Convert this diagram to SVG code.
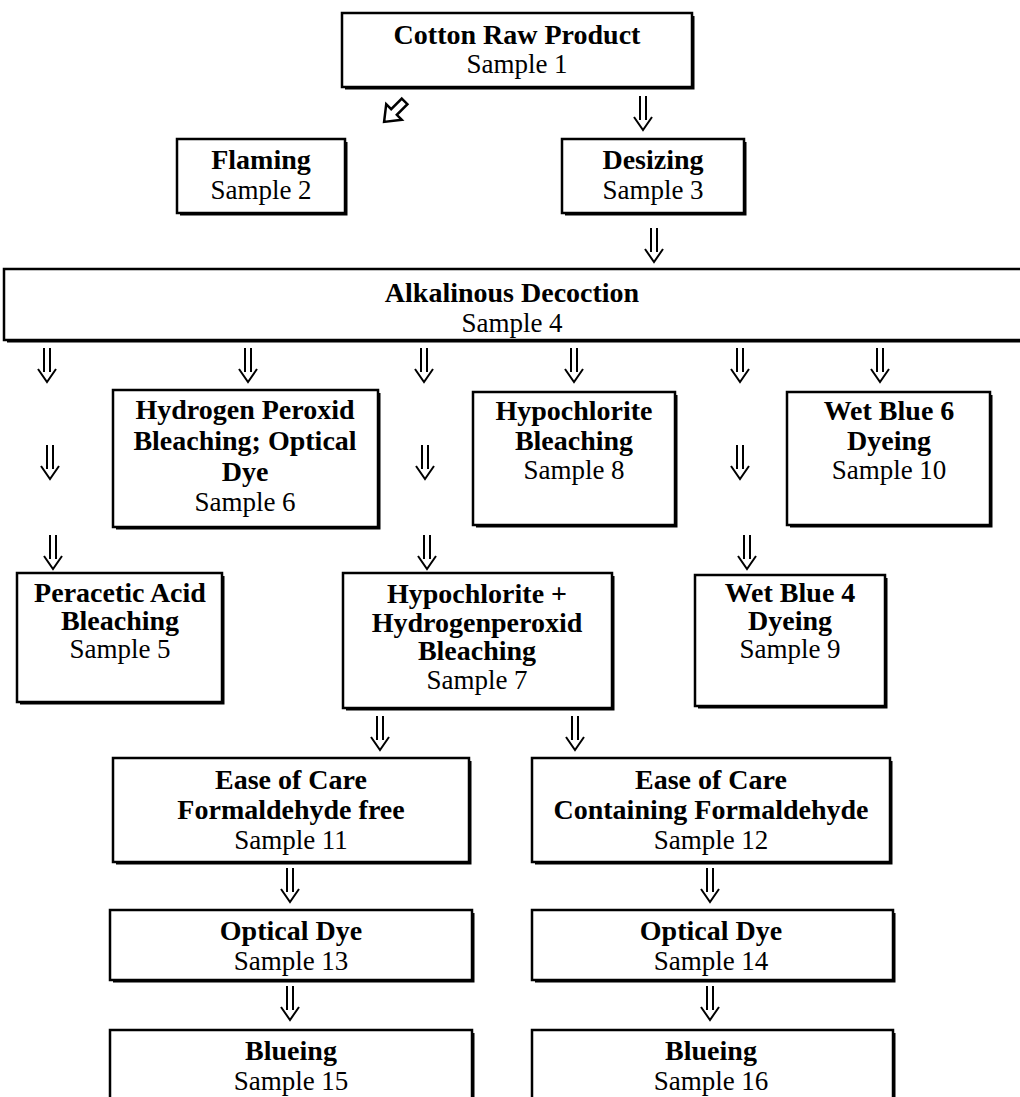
<svg xmlns="http://www.w3.org/2000/svg" xmlns:xlink="http://www.w3.org/1999/xlink" width="1020" height="1097" viewBox="0 0 1020 1097">
<style>
.box{fill:#fff;stroke:#000;stroke-width:2.5}
.sh{fill:none;stroke:#000;stroke-width:3}
.t{font-family:"Liberation Serif","Times New Roman",serif;font-size:27px;text-anchor:middle;fill:#000}
.b{font-weight:bold;font-size:28px}
.ar{fill:none;stroke:#000;stroke-width:2}
.ha{fill:#fff;stroke:#000;stroke-width:2.5;stroke-linejoin:miter}
</style>
<defs>
<path id="dn" class="ar" d="M-3 0V24M3 0V24M-9 21L0 34L9 21"/>
</defs>
<rect width="1020" height="1097" fill="#fff"/>

<g id="connectors">
<polygon class="ha" transform="translate(394,112) rotate(45)" points="-4,-15 4,-15 4,0 11,0 0,14 -11,0 -4,0"/>
<use xlink:href="#dn" x="643" y="96"/>
<use xlink:href="#dn" x="654" y="228"/>
<use xlink:href="#dn" x="47" y="348"/>
<use xlink:href="#dn" x="248" y="348"/>
<use xlink:href="#dn" x="424" y="348"/>
<use xlink:href="#dn" x="574" y="348"/>
<use xlink:href="#dn" x="740" y="348"/>
<use xlink:href="#dn" x="880" y="348"/>
<use xlink:href="#dn" x="50" y="445"/>
<use xlink:href="#dn" x="425" y="445"/>
<use xlink:href="#dn" x="740" y="445"/>
<use xlink:href="#dn" x="53" y="535"/>
<use xlink:href="#dn" x="427" y="535"/>
<use xlink:href="#dn" x="747" y="535"/>
<use xlink:href="#dn" x="380" y="716"/>
<use xlink:href="#dn" x="575" y="716"/>
<use xlink:href="#dn" x="290" y="868"/>
<use xlink:href="#dn" x="710" y="868"/>
<use xlink:href="#dn" x="290" y="986"/>
<use xlink:href="#dn" x="710" y="986"/>
</g>

<g id="n1">
<rect class="box" x="342" y="13" width="350" height="74"/>
<path class="sh" d="M693 16V88H345"/>
<text class="t b" x="517" y="44">Cotton Raw Product</text>
<text class="t" x="517" y="73">Sample 1</text>
</g>
<g id="n2">
<rect class="box" x="177" y="139" width="168" height="74"/>
<path class="sh" d="M346 142V214H180"/>
<text class="t b" x="261" y="169">Flaming</text>
<text class="t" x="261" y="199">Sample 2</text>
</g>
<g id="n3">
<rect class="box" x="562" y="139" width="182" height="74"/>
<path class="sh" d="M745 142V214H565"/>
<text class="t b" x="653" y="169">Desizing</text>
<text class="t" x="653" y="199">Sample 3</text>
</g>
<g id="n4">
<rect class="box" x="4" y="269" width="1030" height="71"/>
<path class="sh" d="M7 341H1030"/>
<text class="t b" x="512" y="302">Alkalinous Decoction</text>
<text class="t" x="512" y="332">Sample 4</text>
</g>
<g id="n6">
<rect class="box" x="113" y="390" width="265" height="137"/>
<path class="sh" d="M379 393V528H116"/>
<text class="t b" x="245" y="419">Hydrogen Peroxid</text>
<text class="t b" x="245" y="450">Bleaching; Optical</text>
<text class="t b" x="245" y="481">Dye</text>
<text class="t" x="245" y="511">Sample 6</text>
</g>
<g id="n8">
<rect class="box" x="473" y="392" width="202" height="133"/>
<path class="sh" d="M676 395V526H476"/>
<text class="t b" x="574" y="420">Hypochlorite</text>
<text class="t b" x="574" y="450">Bleaching</text>
<text class="t" x="574" y="479">Sample 8</text>
</g>
<g id="n10">
<rect class="box" x="787" y="392" width="203" height="133"/>
<path class="sh" d="M991 395V526H790"/>
<text class="t b" x="889" y="420">Wet Blue 6</text>
<text class="t b" x="889" y="450">Dyeing</text>
<text class="t" x="889" y="479">Sample 10</text>
</g>
<g id="n5">
<rect class="box" x="17" y="573" width="205" height="129"/>
<path class="sh" d="M223 576V703H20"/>
<text class="t b" x="120" y="602">Peracetic Acid</text>
<text class="t b" x="120" y="630">Bleaching</text>
<text class="t" x="120" y="658">Sample 5</text>
</g>
<g id="n7">
<rect class="box" x="343" y="573" width="269" height="135"/>
<path class="sh" d="M613 576V709H346"/>
<text class="t b" x="477" y="603">Hypochlorite +</text>
<text class="t b" x="477" y="632">Hydrogenperoxid</text>
<text class="t b" x="477" y="660">Bleaching</text>
<text class="t" x="477" y="689">Sample 7</text>
</g>
<g id="n9">
<rect class="box" x="695" y="575" width="190" height="131"/>
<path class="sh" d="M886 578V707H698"/>
<text class="t b" x="790" y="602">Wet Blue 4</text>
<text class="t b" x="790" y="630">Dyeing</text>
<text class="t" x="790" y="658">Sample 9</text>
</g>
<g id="n11">
<rect class="box" x="113" y="758" width="356" height="104"/>
<path class="sh" d="M470 761V863H116"/>
<text class="t b" x="291" y="789">Ease of Care</text>
<text class="t b" x="291" y="819">Formaldehyde free</text>
<text class="t" x="291" y="849">Sample 11</text>
</g>
<g id="n12">
<rect class="box" x="532" y="758" width="358" height="104"/>
<path class="sh" d="M891 761V863H535"/>
<text class="t b" x="711" y="789">Ease of Care</text>
<text class="t b" x="711" y="819">Containing Formaldehyde</text>
<text class="t" x="711" y="849">Sample 12</text>
</g>
<g id="n13">
<rect class="box" x="110" y="910" width="362" height="70"/>
<path class="sh" d="M473 913V981H113"/>
<text class="t b" x="291" y="940">Optical Dye</text>
<text class="t" x="291" y="970">Sample 13</text>
</g>
<g id="n14">
<rect class="box" x="532" y="910" width="361" height="70"/>
<path class="sh" d="M894 913V981H535"/>
<text class="t b" x="711" y="940">Optical Dye</text>
<text class="t" x="711" y="970">Sample 14</text>
</g>
<g id="n15">
<rect class="box" x="110" y="1030" width="362" height="80"/>
<path class="sh" d="M473 1033V1110"/>
<text class="t b" x="291" y="1060">Blueing</text>
<text class="t" x="291" y="1090">Sample 15</text>
</g>
<g id="n16">
<rect class="box" x="532" y="1030" width="361" height="80"/>
<path class="sh" d="M894 1033V1110"/>
<text class="t b" x="711" y="1060">Blueing</text>
<text class="t" x="711" y="1090">Sample 16</text>
</g>
</svg>
